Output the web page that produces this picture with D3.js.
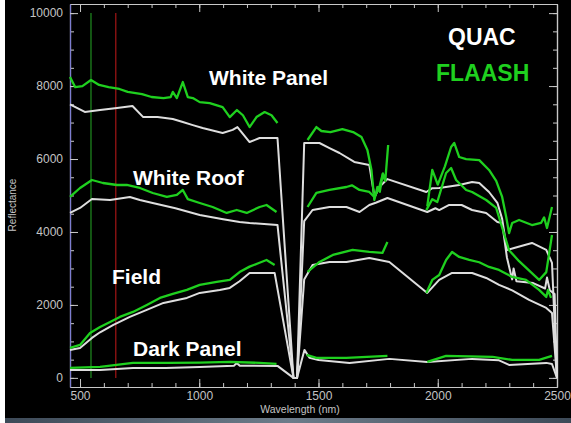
<!DOCTYPE html>
<html>
<head>
<meta charset="utf-8">
<script src="https://cdn.jsdelivr.net/npm/d3@7"></script>
<style>
  html, body { margin: 0; padding: 0; background: #fff; }
  svg { display: block; font-family: "Liberation Sans", Arial, sans-serif; }
</style>
</head>
<body>
<svg id="chart" width="571" height="423"></svg>
<script>
// ---- data (wavelength nm, reflectance) ; null = gap in FLAASH ----
const xTicks = [500, 1000, 1500, 2000, 2500];
const yTicks = [0, 2000, 4000, 6000, 8000, 10000];
const markerLines = [{ w: 546, color: '#1f8f1f' }, { w: 650, color: '#a31515' }];

const quacPanel = [
  [458,7500],[520,7290],[584,7343],[655,7400],[720,7452],[765,7150],[825,7150],[889,7096],[931,7014],
  [973,6930],[1014,6850],[1098,6713],[1140,6800],[1160,6877],[1211,6466],[1253,6576],[1328,6576],
  [1395,0],[1410,0],[1440,6439],[1504,6439],[1546,6300],[1588,6165],[1650,5920],[1713,5836],[1735,4950],
  [1755,5233],[1789,5450],[1952,5096],[1977,5200],[2006,5206],[2090,5288],[2144,5370],[2174,5340],
  [2215,5096],[2250,4800],[2270,4360],[2290,3507],[2320,3560],[2395,3700],[2455,3507],[2479,3151],[2500,0]
];
const quacRoof = [
  [458,4521],[500,4658],[550,4905],[626,4877],[709,4960],[751,4877],[800,4800],[900,4650],[1002,4466],
  [1100,4350],[1169,4274],[1211,4247],[1328,4192],[1395,0],[1410,0],[1440,4300],[1475,4603],[1546,4685],
  [1617,4685],[1672,4548],[1713,4740],[1740,4800],[1789,4932],[1956,4548],[1990,4650],[2006,4600],
  [2048,4740],[2100,4740],[2144,4603],[2203,4521],[2250,4274],[2270,4247],[2290,3300],[2312,2700],
  [2318,3000],[2330,2650],[2400,2600],[2450,2450],[2458,2750],[2470,2400],[2490,2300],[2500,0]
];
const quacField = [
  [458,767],[500,822],[550,1096],[584,1250],[640,1452],[709,1671],[780,1863],[850,2055],[948,2192],
  [1002,2329],[1086,2411],[1128,2466],[1169,2650],[1211,2877],[1316,2877],[1395,0],[1410,0],[1440,2700],
  [1475,3096],[1546,3178],[1617,3178],[1713,3288],[1797,3178],[1956,2329],[2006,2685],[2060,2877],
  [2144,2877],[2203,2740],[2257,2548],[2312,2400],[2383,2137],[2455,1918],[2479,1781],[2500,0]
];
const quacDark = [
  [458,219],[584,219],[722,274],[860,274],[1002,301],[1145,330],[1157,410],[1170,330],[1328,329],
  [1395,0],[1410,0],[1430,500],[1441,767],[1462,550],[1500,490],[1630,411],[1797,521],[1956,438],
  [2144,521],[2257,480],[2299,356],[2455,411],[2479,380],[2500,0]
];

const flaashPanel = [
  [458,8250],[480,7970],[510,8000],[546,8165],[580,8030],[620,7970],[665,7920],[700,7840],[760,7780],
  [800,7700],[850,7672],[880,7700],[889,7840],[906,7672],[931,8110],[952,7700],[973,7672],[1002,7560],
  [1044,7535],[1098,7425],[1128,7150],[1158,7343],[1183,7200],[1211,6877],[1240,7150],[1274,7288],
  [1303,7200],[1328,6987],[1330,null],
  [1454,6521],[1491,6877],[1512,6768],[1550,6740],[1600,6822],[1645,6740],[1680,6603],[1705,6247],
  [1722,5699],[1734,4877],[1747,5233],[1757,5100],[1770,5600],[1780,5400],[1800,null],
  [1956,4700],[1977,5700],[2000,5300],[2030,5800],[2056,6330],[2069,6440],[2090,6055],[2119,6000],
  [2174,5970],[2215,5700],[2245,5400],[2270,4960],[2287,4411],[2299,3970],[2312,4247],[2341,4329],
  [2395,4190],[2433,4247],[2446,4400],[2458,4110],[2479,4685]
];
const flaashRoof = [
  [458,4960],[500,5206],[550,5425],[596,5343],[655,5288],[696,5288],[751,5206],[805,5069],[864,4960],
  [906,5014],[931,5151],[952,4900],[1002,4795],[1056,4685],[1115,4521],[1157,4603],[1199,4521],
  [1253,4685],[1282,4740],[1324,4548],[1330,null],
  [1454,4685],[1491,5069],[1546,5151],[1617,5233],[1640,5280],[1672,5151],[1713,5096],[1734,4960],
  [1755,5233],[1770,5600],[1780,5400],[1792,6384],[1800,null],
  [1952,4600],[1977,4900],[1998,4822],[2035,5617],[2056,5754],[2077,5425],[2119,5151],[2144,5096],
  [2203,4877],[2245,4658],[2299,3500],[2341,3200],[2425,2685],[2455,2900],[2479,3918]
];
const flaashField = [
  [458,822],[500,904],[542,1233],[584,1397],[626,1534],[667,1671],[722,1808],[780,2000],[835,2192],
  [889,2302],[948,2411],[1002,2548],[1073,2630],[1128,2685],[1169,2900],[1211,3050],[1250,3150],
  [1282,3233],[1316,3096],[1330,null],
  [1454,2904],[1504,3178],[1560,3370],[1643,3507],[1713,3452],[1768,3425],[1789,3726],[1800,null],
  [1952,2329],[1977,2685],[2006,2822],[2035,3233],[2060,3452],[2090,3315],[2132,3233],[2174,3170],
  [2215,3041],[2257,2959],[2312,2767],[2370,2685],[2425,2411],[2455,2219],[2462,2411],[2475,2192]
];
const flaashDark = [
  [458,274],[584,301],[722,411],[870,411],[1002,420],[1128,438],[1253,411],[1324,384],[1330,null],
  [1450,630],[1491,548],[1617,548],[1789,603],[1800,null],
  [1956,438],[2035,603],[2230,575],[2312,493],[2425,493],[2479,603]
];

const quacSeries = [quacPanel, quacRoof, quacField, quacDark];
const flaashSeries = [flaashPanel, flaashRoof, flaashField, flaashDark];

const labels = [
  { text: 'White Panel', x: 209, y: 85 },
  { text: 'White Roof', x: 133, y: 185 },
  { text: 'Field', x: 112, y: 284 },
  { text: 'Dark Panel', x: 133, y: 356 }
];

// ---- layout ----
const W = 571, H = 423;
const plot = { left: 70, right: 557, top: 4, bottom: 387 };

const svg = d3.select('#chart');

// background: white strip on the left, black slide, blue-gray strip at bottom
svg.append('rect').attr('width', W).attr('height', H).attr('fill', '#fff');
svg.append('rect').attr('x', 5).attr('y', 0).attr('width', W - 5).attr('height', 418).attr('fill', '#000');
const grad = svg.append('defs').append('linearGradient').attr('id', 'strip');
grad.append('stop').attr('offset', '0%').attr('stop-color', '#3d4a58');
grad.append('stop').attr('offset', '50%').attr('stop-color', '#6d7c8a');
grad.append('stop').attr('offset', '100%').attr('stop-color', '#3d4a58');
svg.append('rect').attr('x', 5).attr('y', 418).attr('width', W - 5).attr('height', 5).attr('fill', 'url(#strip)');

const x = d3.scaleLinear().domain([458, 2500]).range([plot.left, plot.right]);
const y = d3.scaleLinear().domain([-250, 10250]).range([plot.bottom, plot.top]);

const axisColor = '#c8c8c8';

// ---- frame + ticks ----
function styleAxis(g) {
  g.selectAll('path.domain').attr('stroke', axisColor).attr('stroke-width', 1.2);
  g.selectAll('line').attr('stroke', axisColor).attr('stroke-width', 1);
  g.selectAll('text').attr('fill', '#c4c4c4').attr('font-size', 12);
}

const xMinor = d3.range(500, 2501, 100);
const yMinor = d3.range(0, 10001, 500);

// bottom
svg.append('g').attr('transform', `translate(0,${plot.bottom})`)
  .call(d3.axisBottom(x).tickValues(xMinor).tickSize(-4).tickFormat('').tickSizeOuter(0)).call(styleAxis);
svg.append('g').attr('transform', `translate(0,${plot.bottom})`)
  .call(d3.axisBottom(x).tickValues(xTicks).tickSize(-8).tickPadding(4).tickSizeOuter(0)
    .tickFormat(d3.format('d'))).call(styleAxis);
// top
svg.append('g').attr('transform', `translate(0,${plot.top})`)
  .call(d3.axisTop(x).tickValues(xMinor).tickSize(-4).tickFormat('').tickSizeOuter(0)).call(styleAxis);
svg.append('g').attr('transform', `translate(0,${plot.top})`)
  .call(d3.axisTop(x).tickValues(xTicks).tickSize(-8).tickFormat('').tickSizeOuter(0)).call(styleAxis);
// right
svg.append('g').attr('transform', `translate(${plot.right},0)`)
  .call(d3.axisRight(y).tickValues(yMinor).tickSize(-4).tickFormat('').tickSizeOuter(0)).call(styleAxis);
svg.append('g').attr('transform', `translate(${plot.right},0)`)
  .call(d3.axisRight(y).tickValues(yTicks).tickSize(-8).tickFormat('').tickSizeOuter(0)).call(styleAxis);
// left
svg.append('g').attr('transform', `translate(${plot.left},0)`)
  .call(d3.axisLeft(y).tickValues(yMinor).tickSize(-4).tickFormat('').tickSizeOuter(0)).call(styleAxis);
const yAx = svg.append('g').attr('transform', `translate(${plot.left},0)`)
  .call(d3.axisLeft(y).tickValues(yTicks).tickSize(-8).tickPadding(7).tickSizeOuter(0)
    .tickFormat(d3.format('d'))).call(styleAxis);
yAx.select('path.domain').attr('stroke', '#7d7dd0');

// axis titles
svg.append('text')
  .attr('transform', `translate(16,205) rotate(-90)`)
  .attr('text-anchor', 'middle').attr('fill', '#c4c4c4').attr('font-size', 10)
  .text('Reflectance');
svg.append('text')
  .attr('x', 300).attr('y', 413).attr('text-anchor', 'middle')
  .attr('fill', '#c4c4c4').attr('font-size', 10.5)
  .text('Wavelength (nm)');

// ---- band marker lines ----
svg.selectAll('.marker').data(markerLines).enter().append('line')
  .attr('x1', d => x(d.w)).attr('x2', d => x(d.w))
  .attr('y1', y(10000)).attr('y2', y(0))
  .attr('stroke', d => d.color).attr('stroke-width', 1.2);

// ---- spectra ----
const line = d3.line()
  .defined(d => d[1] !== null)
  .x(d => x(d[0])).y(d => y(d[1]));

svg.selectAll('.quac').data(quacSeries).enter().append('path')
  .attr('d', line).attr('fill', 'none')
  .attr('stroke', '#dedede').attr('stroke-width', 2)
  .attr('stroke-linejoin', 'round');

svg.selectAll('.flaash').data(flaashSeries).enter().append('path')
  .attr('d', line).attr('fill', 'none')
  .attr('stroke', '#1fd01f').attr('stroke-width', 2.3)
  .attr('stroke-linejoin', 'round');

// ---- labels ----
svg.selectAll('.lbl').data(labels).enter().append('text')
  .attr('x', d => d.x).attr('y', d => d.y)
  .attr('fill', '#fff').attr('font-weight', 'bold').attr('font-size', 21)
  .text(d => d.text);

svg.append('text').attr('x', 448).attr('y', 45)
  .attr('fill', '#fff').attr('font-weight', 'bold').attr('font-size', 23).text('QUAC');
svg.append('text').attr('x', 436).attr('y', 81)
  .attr('fill', '#1fd01f').attr('font-weight', 'bold').attr('font-size', 23).text('FLAASH');
</script>
</body>
</html>
